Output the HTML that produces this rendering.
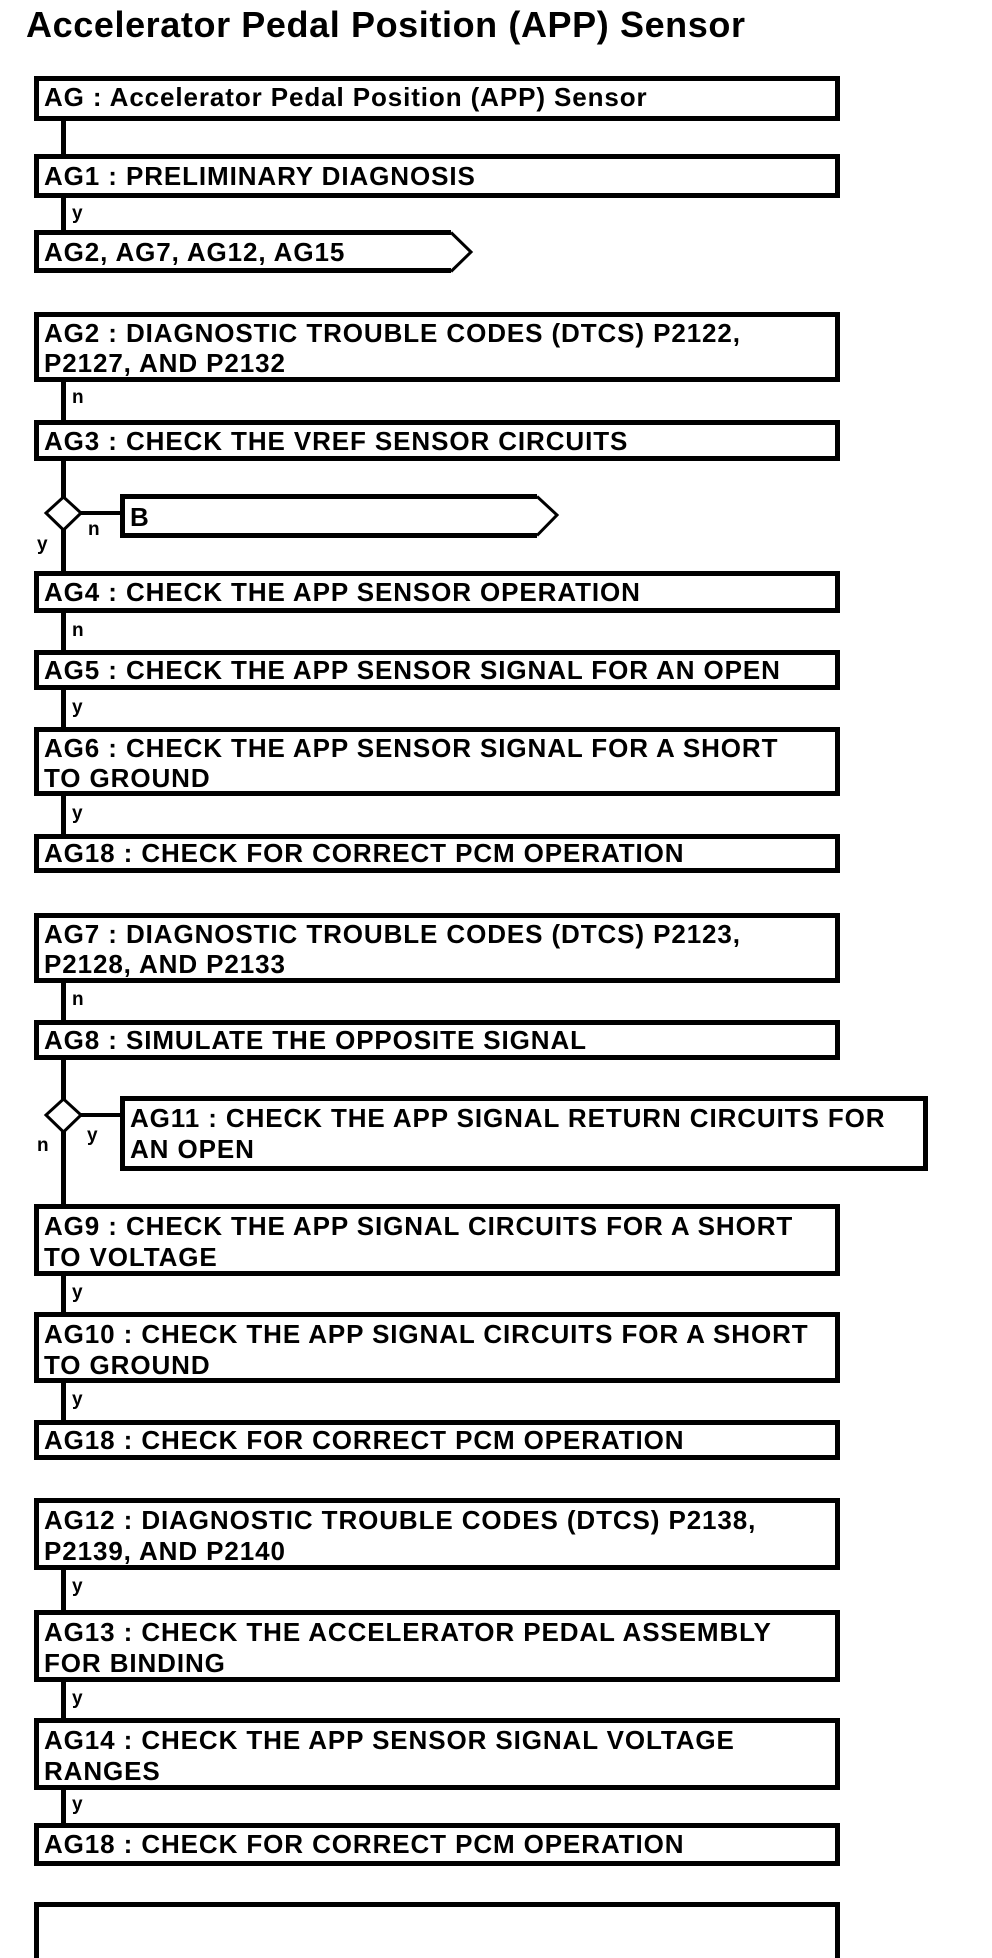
<!DOCTYPE html>
<html><head><meta charset="utf-8"><style>
html,body{margin:0;padding:0;background:#fff;width:992px;height:1958px;overflow:hidden}
svg{display:block}
text{font-family:"Liberation Sans",Arial,sans-serif;font-weight:bold;fill:#000}
.t{font-size:26px;letter-spacing:0.9px}
.l{font-size:19px}
</style></head><body>
<svg width="992" height="1958" viewBox="0 0 992 1958" xmlns="http://www.w3.org/2000/svg">
<text x="26" y="37" style="font-size:36px;letter-spacing:0.6px">Accelerator Pedal Position (APP) Sensor</text>

<g stroke="#000" stroke-width="5" fill="none">
<!-- vertical connectors -->
<line x1="63.5" y1="121" x2="63.5" y2="154"/>
<line x1="63.5" y1="198" x2="63.5" y2="230"/>
<line x1="63.5" y1="382" x2="63.5" y2="420"/>
<line x1="63.5" y1="461" x2="63.5" y2="571"/>
<line x1="63.5" y1="613" x2="63.5" y2="650"/>
<line x1="63.5" y1="690" x2="63.5" y2="727"/>
<line x1="63.5" y1="796" x2="63.5" y2="834"/>
<line x1="63.5" y1="983" x2="63.5" y2="1020"/>
<line x1="63.5" y1="1060" x2="63.5" y2="1204"/>
<line x1="63.5" y1="1276" x2="63.5" y2="1312"/>
<line x1="63.5" y1="1383" x2="63.5" y2="1420"/>
<line x1="63.5" y1="1570" x2="63.5" y2="1610"/>
<line x1="63.5" y1="1682" x2="63.5" y2="1718"/>
<line x1="63.5" y1="1790" x2="63.5" y2="1823"/>
<!-- horizontal to side boxes -->
<line x1="80" y1="513" x2="122" y2="513" stroke-width="4"/>
<line x1="80" y1="1115" x2="122" y2="1115" stroke-width="4"/>

<!-- boxes -->
<rect x="36.5" y="78.5" width="801" height="40"/>
<rect x="36.5" y="156.5" width="801" height="39"/>
<rect x="36.5" y="314.5" width="801" height="65"/>
<rect x="36.5" y="422.5" width="801" height="36"/>
<rect x="36.5" y="573.5" width="801" height="37"/>
<rect x="36.5" y="652.5" width="801" height="35"/>
<rect x="36.5" y="729.5" width="801" height="64"/>
<rect x="36.5" y="836.5" width="801" height="34"/>
<rect x="36.5" y="915.5" width="801" height="65"/>
<rect x="36.5" y="1022.5" width="801" height="35"/>
<rect x="122.5" y="1098.5" width="803" height="70"/>
<rect x="36.5" y="1206.5" width="801" height="67"/>
<rect x="36.5" y="1314.5" width="801" height="66"/>
<rect x="36.5" y="1422.5" width="801" height="35"/>
<rect x="36.5" y="1500.5" width="801" height="67"/>
<rect x="36.5" y="1612.5" width="801" height="67"/>
<rect x="36.5" y="1720.5" width="801" height="67"/>
<rect x="36.5" y="1825.5" width="801" height="38"/>
<polyline points="36.5,1958 36.5,1904.5 837.5,1904.5 837.5,1958"/>

<!-- arrow boxes -->
<polyline points="451,232.5 36.5,232.5 36.5,270.5 451,270.5"/>
<polyline points="122.5,538 122.5,496.5 537,496.5"/>
<line x1="122.5" y1="535.5" x2="537" y2="535.5"/>
</g>
<g stroke="#000" stroke-width="3" fill="none">
<polyline points="451,232.5 471,252 451,271.5"/>
<polyline points="537,496.5 557,515 537,535.5"/>
<polygon points="63.5,497 81,513 63.5,530 46,513" fill="#fff"/>
<polygon points="63.5,1099 81,1115 63.5,1132 46,1115" fill="#fff"/>
</g>

<g class="t">
<text x="44" y="106">AG : Accelerator Pedal Position (APP) Sensor</text>
<text x="44" y="185">AG1 : PRELIMINARY DIAGNOSIS</text>
<text x="44" y="261">AG2, AG7, AG12, AG15</text>
<text x="44" y="342">AG2 : DIAGNOSTIC TROUBLE CODES (DTCS) P2122,</text>
<text x="44" y="372">P2127, AND P2132</text>
<text x="44" y="450">AG3 : CHECK THE VREF SENSOR CIRCUITS</text>
<text x="130" y="526">B</text>
<text x="44" y="601">AG4 : CHECK THE APP SENSOR OPERATION</text>
<text x="44" y="679">AG5 : CHECK THE APP SENSOR SIGNAL FOR AN OPEN</text>
<text x="44" y="757">AG6 : CHECK THE APP SENSOR SIGNAL FOR A SHORT</text>
<text x="44" y="787">TO GROUND</text>
<text x="44" y="862">AG18 : CHECK FOR CORRECT PCM OPERATION</text>
<text x="44" y="943">AG7 : DIAGNOSTIC TROUBLE CODES (DTCS) P2123,</text>
<text x="44" y="973">P2128, AND P2133</text>
<text x="44" y="1049">AG8 : SIMULATE THE OPPOSITE SIGNAL</text>
<text x="130" y="1127">AG11 : CHECK THE APP SIGNAL RETURN CIRCUITS FOR</text>
<text x="130" y="1158">AN OPEN</text>
<text x="44" y="1235">AG9 : CHECK THE APP SIGNAL CIRCUITS FOR A SHORT</text>
<text x="44" y="1266">TO VOLTAGE</text>
<text x="44" y="1343">AG10 : CHECK THE APP SIGNAL CIRCUITS FOR A SHORT</text>
<text x="44" y="1374">TO GROUND</text>
<text x="44" y="1449">AG18 : CHECK FOR CORRECT PCM OPERATION</text>
<text x="44" y="1529">AG12 : DIAGNOSTIC TROUBLE CODES (DTCS) P2138,</text>
<text x="44" y="1560">P2139, AND P2140</text>
<text x="44" y="1641">AG13 : CHECK THE ACCELERATOR PEDAL ASSEMBLY</text>
<text x="44" y="1672">FOR BINDING</text>
<text x="44" y="1749">AG14 : CHECK THE APP SENSOR SIGNAL VOLTAGE</text>
<text x="44" y="1780">RANGES</text>
<text x="44" y="1853">AG18 : CHECK FOR CORRECT PCM OPERATION</text>
</g>

<g class="l">
<text x="72" y="219">y</text>
<text x="72" y="403">n</text>
<text x="88" y="535">n</text>
<text x="37" y="550">y</text>
<text x="72" y="636">n</text>
<text x="72" y="713">y</text>
<text x="72" y="819">y</text>
<text x="72" y="1005">n</text>
<text x="87" y="1141">y</text>
<text x="37" y="1151">n</text>
<text x="72" y="1298">y</text>
<text x="72" y="1405">y</text>
<text x="72" y="1592">y</text>
<text x="72" y="1704">y</text>
<text x="72" y="1810">y</text>
</g>
</svg>
</body></html>
